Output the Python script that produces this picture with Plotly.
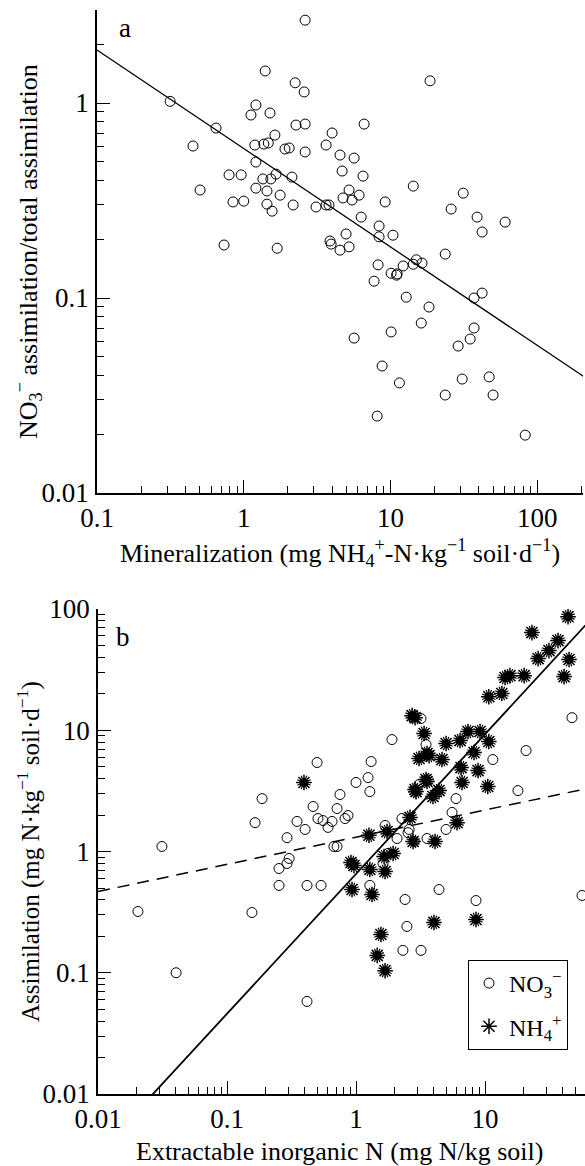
import numpy as np
import plotly.graph_objects as go

# ---------------- Panel a data ----------------
mineralization = [0.315, 0.647, 0.451, 0.504, 0.734, 1.40, 2.24, 1.21, 1.12, 1.51,
                  2.27, 1.63, 1.19, 1.37, 1.47, 1.91, 2.04, 1.21, 0.794, 0.96,
                  1.66, 2.13, 1.35, 1.53, 1.21, 1.44, 1.77, 0.845, 1.00, 1.44,
                  1.56, 2.17, 1.69, 2.62, 2.58, 18.6, 2.62, 6.61, 4.00, 3.64,
                  4.53, 5.65, 2.62, 4.68, 6.50, 14.3, 31.3, 5.22, 6.11, 4.75,
                  5.47, 9.19, 3.11, 3.64, 3.81, 25.9, 6.31, 38.9, 60.4, 42.1,
                  8.36, 8.36, 4.98, 10.4, 3.87, 3.94, 4.53, 5.22, 23.6, 15.0,
                  16.4, 14.3, 12.2, 8.23, 10.1, 11.1, 11.0, 7.73, 12.8, 37.1,
                  42.1, 18.3, 16.2, 5.65, 10.1, 28.9, 34.9, 37.1, 8.77, 11.5,
                  30.8, 47.0, 23.6, 50.0, 8.11, 82.8]
no3_fraction = [1.02, 0.744, 0.602, 0.358, 0.187, 1.46, 1.27, 0.977, 0.868, 0.889,
                0.771, 0.685, 0.609, 0.616, 0.624, 0.581, 0.588, 0.498, 0.428, 0.428,
                0.432, 0.417, 0.408, 0.408, 0.366, 0.354, 0.337, 0.311, 0.314, 0.303,
                0.279, 0.300, 0.180, 2.66, 1.14, 1.30, 0.780, 0.780, 0.702, 0.609,
                0.541, 0.522, 0.561, 0.448, 0.422, 0.375, 0.345, 0.358, 0.337, 0.326,
                0.318, 0.311, 0.293, 0.300, 0.300, 0.286, 0.260, 0.260, 0.245, 0.218,
                0.234, 0.206, 0.213, 0.210, 0.196, 0.189, 0.176, 0.183, 0.168, 0.157,
                0.151, 0.149, 0.146, 0.148, 0.134, 0.133, 0.131, 0.122, 0.101, 0.100,
                0.106, 0.0899, 0.0744, 0.0623, 0.0670, 0.0567, 0.0616, 0.0702, 0.0448, 0.0367,
                0.0384, 0.0394, 0.0318, 0.0318, 0.0248, 0.0198]
# fitted line in panel a: log10(y) = a_int + a_slope*log10(x)
a_int, a_slope = -0.233, -0.505

# ---------------- Panel b data ----------------
no3_x = [0.0313, 0.165, 0.187, 0.292, 0.349, 0.253, 0.292, 0.303, 0.0204, 0.0403,
         0.156, 0.253, 0.499, 0.751, 0.465, 0.713, 0.507, 0.555, 0.652, 0.607,
         0.822, 0.403, 0.674, 0.713, 0.417, 0.536, 3.19, 1.90, 3.49, 1.31,
         20.8, 11.5, 47.2, 1.00, 1.24, 1.28, 3.08, 18.0, 5.96, 0.867,
         5.55, 2.27, 1.68, 2.58, 2.53, 2.08, 4.99, 3.55, 2.82, 1.77,
         1.62, 1.28, 4.40, 2.40, 8.51, 2.48, 2.31, 3.19, 0.417, 56.5]
no3_y = [1.10, 1.73, 2.73, 1.30, 1.77, 0.724, 0.796, 0.876, 0.320, 0.100,
         0.314, 0.525, 5.42, 2.95, 2.35, 2.26, 1.87, 1.80, 1.77, 1.58,
         1.87, 1.52, 1.10, 1.10, 0.525, 0.525, 12.5, 8.38, 7.62, 5.52,
         6.80, 5.73, 12.7, 3.71, 4.07, 3.12, 3.57, 3.18, 2.73, 1.98,
         2.10, 1.87, 1.64, 1.52, 1.43, 1.28, 1.52, 1.28, 1.21, 0.963,
         0.796, 0.525, 0.486, 0.402, 0.394, 0.241, 0.153, 0.153, 0.058, 0.434]
nh4_x = [44.0, 23.1, 36.8, 31.3, 25.8, 44.8, 41.0, 14.3, 15.6, 20.1,
         10.7, 13.5, 2.72, 2.87, 3.37, 7.38, 9.15, 6.40, 4.99, 10.7,
         8.22, 3.55, 3.68, 3.08, 4.64, 6.52, 8.83, 0.395, 3.49, 3.55,
         6.64, 10.5, 2.87, 2.92, 4.40, 3.95, 2.62, 6.07, 1.26, 1.74,
         2.77, 4.10, 1.65, 1.94, 0.914, 0.964, 1.28, 1.68, 0.931, 1.33,
         4.02, 8.51, 1.56, 1.46, 1.68]
nh4_y = [86.5, 63.9, 54.9, 45.4, 39.0, 38.3, 27.7, 27.2, 28.2, 28.2,
         18.9, 20.1, 13.2, 12.7, 9.40, 9.76, 9.76, 8.22, 7.77, 8.07,
         6.55, 6.43, 6.18, 5.85, 5.73, 4.92, 4.65, 3.71, 3.92, 3.78,
         3.71, 3.44, 3.24, 3.12, 3.18, 2.84, 1.91, 1.73, 1.36, 1.46,
         1.21, 1.21, 0.909, 0.963, 0.812, 0.767, 0.711, 0.684, 0.486, 0.442,
         0.260, 0.275, 0.207, 0.139, 0.104]
# fitted lines in panel b
nh4_int, nh4_slope = -0.185, 1.153
no3_int, no3_slope = 0.118, 0.224

FONT = "Liberation Serif"
W, H = 585, 1166
TICK_FS = 27
TITLE_FS = 26

fig = go.Figure()

# Panel a
fig.add_trace(go.Scatter(x=mineralization, y=no3_fraction, mode="markers",
                         marker=dict(symbol="circle-open", size=10, color="black",
                                     line=dict(width=1)),
                         showlegend=False, xaxis="x", yaxis="y"))
xa = np.array([0.1, 220.0])
fig.add_trace(go.Scatter(x=xa, y=10 ** (a_int + a_slope * np.log10(xa)), mode="lines",
                         line=dict(color="black", width=1.3), showlegend=False,
                         xaxis="x", yaxis="y"))

# Panel b
xb = np.array([0.01, 60.0])
fig.add_trace(go.Scatter(x=xb, y=10 ** (no3_int + no3_slope * np.log10(xb)), mode="lines",
                         line=dict(color="black", width=1.5, dash="12px,8px"),
                         showlegend=False, xaxis="x2", yaxis="y2"))
fig.add_trace(go.Scatter(x=xb, y=10 ** (nh4_int + nh4_slope * np.log10(xb)), mode="lines",
                         line=dict(color="black", width=1.8), showlegend=False,
                         xaxis="x2", yaxis="y2"))
fig.add_trace(go.Scatter(x=no3_x, y=no3_y, mode="markers", name="NO<sub>3</sub><sup>−</sup>",
                         legendgroup="no3",
                         marker=dict(symbol="circle-open", size=10, color="black",
                                     line=dict(width=1)),
                         xaxis="x2", yaxis="y2"))
fig.add_trace(go.Scatter(x=nh4_x, y=nh4_y, mode="markers", showlegend=False,
                         legendgroup="nh4",
                         marker=dict(symbol="circle", size=9, color="black"),
                         xaxis="x2", yaxis="y2"))
fig.add_trace(go.Scatter(x=nh4_x, y=nh4_y, mode="markers", showlegend=False,
                         legendgroup="nh4",
                         marker=dict(symbol="asterisk-open", size=12, color="black", angle=22.5,
                                     line=dict(width=1.2, color="black")),
                         xaxis="x2", yaxis="y2"))
fig.add_trace(go.Scatter(x=nh4_x, y=nh4_y, mode="markers", name="NH<sub>4</sub><sup>+</sup>",
                         legendgroup="nh4",
                         marker=dict(symbol="asterisk-open", size=13, color="black",
                                     line=dict(width=1.5, color="black")),
                         xaxis="x2", yaxis="y2"))


def minor_vals(lo, hi):
    vals = []
    for e in range(lo, hi + 1):
        for m in range(2, 10):
            vals.append(m * 10.0 ** e)
    return vals


def axis(rng, domain, anchor, tickvals, ticktext, minor, side_x=True):
    return dict(type="log", range=rng, domain=domain, anchor=anchor,
                showline=True, linecolor="black", linewidth=1.5, mirror=False,
                showgrid=False, zeroline=False,
                ticks="inside", ticklen=13, tickwidth=1.2, tickcolor="black",
                tickvals=tickvals, ticktext=ticktext,
                minor=dict(ticks="inside", ticklen=7, tickwidth=1, tickcolor="black",
                           tickvals=minor, showgrid=False),
                tickfont=dict(family=FONT, size=TICK_FS, color="black"),
                ticklabelstandoff=0 if side_x else 1,
                automargin=False, fixedrange=True)


ya_dom = [1 - 493 / H, 1 - 10 / H]
yb_dom = [1 - 1094 / H, 1 - 609 / H]

fig.update_layout(
    width=W, height=H, margin=dict(l=0, r=0, t=0, b=0),
    paper_bgcolor="white", plot_bgcolor="white",
    font=dict(family=FONT, size=TITLE_FS, color="black"),
    xaxis=axis([-1, np.log10(205)], [97 / W, 583 / W], "y",
               [0.1, 1, 10, 100], ["0.1", "1", "10", "100"], minor_vals(-1, 2)),
    yaxis=axis([-2, np.log10(3.0)], ya_dom, "x",
               [0.01, 0.1, 1], ["0.01", "0.1", "1"], minor_vals(-2, 0), side_x=False),
    xaxis2=axis([-2, 1.775], [98 / W, 1.0], "y2",
                [0.01, 0.1, 1, 10], ["0.01", "0.1", "1", "10"], minor_vals(-2, 1)),
    yaxis2=axis([-2, 2], yb_dom, "x2",
                [0.01, 0.1, 1, 10, 100], ["0.01", "0.1", "1", "10", "100"],
                minor_vals(-2, 1), side_x=False),
    legend=dict(x=468 / W, y=1 - 960 / H, xanchor="left", yanchor="top",
                bordercolor="black", borderwidth=1, bgcolor="white",
                font=dict(family=FONT, size=24, color="black"),
                itemwidth=30, traceorder="grouped", tracegroupgap=9),
    showlegend=True,
)

ann = [
    dict(text="a", x=125 / W, y=1 - 28 / H, size=27),
    dict(text="b", x=123 / W, y=1 - 637 / H, size=27),
    dict(text="Mineralization (mg NH<sub>4</sub><sup>+</sup>-N·kg<sup>−1</sup> soil·d<sup>−1</sup>)",
         x=340 / W, y=1 - 553 / H),
    dict(text="Extractable inorganic N (mg N/kg soil)", x=339 / W, y=1 - 1151 / H),
    dict(text="NO<sub>3</sub><sup>−</sup> assimilation/total assimilation",
         x=28 / W, y=1 - 252 / H, textangle=-90),
    dict(text="Assimilation (mg N·kg<sup>−1</sup> soil·d<sup>−1</sup>)",
         x=28 / W, y=1 - 852 / H, textangle=-90, size=25),
]
for a in ann:
    fs = a.pop("size", TITLE_FS)
    a.update(xref="paper", yref="paper", showarrow=False, xanchor="center",
             yanchor="middle", font=dict(family=FONT, size=fs, color="black"))
    fig.add_annotation(**a)

fig.write_html("out.html", config={"displayModeBar": False},
               post_script="document.body.style.margin='0';document.body.style.overflow='hidden';")
